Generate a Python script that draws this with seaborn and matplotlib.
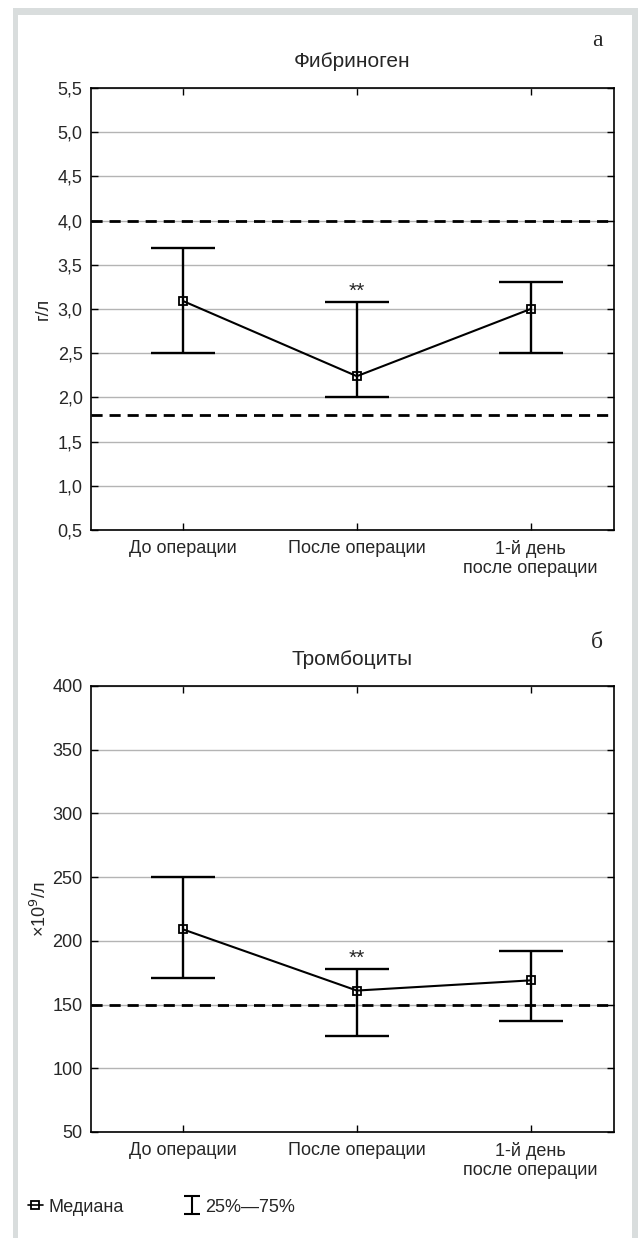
import numpy as np
import pandas as pd
import matplotlib
matplotlib.use("Agg")
import matplotlib.pyplot as plt
import seaborn as sns
from matplotlib import font_manager
from matplotlib.lines import Line2D
from matplotlib.patches import Rectangle

# ---------------- data ----------------
categories = ["До операции", "После операции", "1-й день\nпосле операции"]

fib_median = [3.09, 2.24, 3.00]
fib_q1 = [2.50, 2.00, 2.50]
fib_q3 = [3.69, 3.08, 3.30]
fib_norm = [1.8, 4.0]
fib_ticks = [0.5, 1.0, 1.5, 2.0, 2.5, 3.0, 3.5, 4.0, 4.5, 5.0, 5.5]
fib_ticklabels = ["0,5", "1,0", "1,5", "2,0", "2,5", "3,0", "3,5", "4,0", "4,5", "5,0", "5,5"]

plt_median = [209, 161, 169]
plt_q1 = [171, 125, 137]
plt_q3 = [250, 178, 192]
plt_norm = [150]
plt_ticks = [50, 100, 150, 200, 250, 300, 350, 400]
plt_ticklabels = ["50", "100", "150", "200", "250", "300", "350", "400"]

# ---------------- style ----------------
sns.set_theme(style="white")
names = {f.name for f in font_manager.fontManager.ttflist}
main_font = "Liberation Sans Narrow" if "Liberation Sans Narrow" in names else "Liberation Sans"
plt.rcParams["font.family"] = [main_font, "DejaVu Sans"]
plt.rcParams["axes.edgecolor"] = "black"
plt.rcParams["axes.linewidth"] = 1.2
FS = 13

W, H = 639, 1238
fig = plt.figure(figsize=(W / 100, H / 100), dpi=100)
fig.patch.set_facecolor("white")

# light grey frame
frame_c = "#d9dddd"
fig.add_artist(Rectangle((13 / W, 1 - 15 / H), (638 - 13) / W, 7 / H, transform=fig.transFigure,
                         facecolor=frame_c, edgecolor="none"))
fig.add_artist(Rectangle((13 / W, 0), 5 / W, 1 - 8 / H, transform=fig.transFigure,
                         facecolor=frame_c, edgecolor="none"))
fig.add_artist(Rectangle((632 / W, 0), 6 / W, 1 - 8 / H, transform=fig.transFigure,
                         facecolor=frame_c, edgecolor="none"))

ax_left, ax_right = 91, 614
axA = fig.add_axes([ax_left / W, 1 - 530 / H, (ax_right - ax_left) / W, (530 - 88) / H])
axB = fig.add_axes([ax_left / W, 1 - 1132 / H, (ax_right - ax_left) / W, (1132 - 686) / H])


def panel(ax, med, q1, q3, norms, ticks, ticklabels, title, ylabel, labelpad):
    df = pd.DataFrame({"cat": categories, "val": med})
    sns.pointplot(data=df, x="cat", y="val", color="black", markers="s", linestyles="-",
                  errorbar=None, linewidth=1.5, markersize=6, markeredgewidth=1.3,
                  markerfacecolor="none", ax=ax, zorder=5)
    x = np.arange(len(categories))
    lo = np.subtract(med, q1)
    hi = np.subtract(q3, med)
    ax.errorbar(x, med, yerr=[lo, hi], fmt="none", ecolor="black", elinewidth=1.7,
                capsize=23, capthick=1.7, zorder=4)
    for n in norms:
        ax.axhline(n, color="black", lw=2.0, ls=(0, (4, 2.5)), zorder=3)
    ax.set_yticks(ticks, ticklabels)
    ax.set_ylim(ticks[0], ticks[-1])
    ax.set_xticks(x, categories)
    ax.set_xlim(-0.53, 2.48)
    ax.yaxis.grid(True, color="#b4b4b4", lw=1.0, zorder=0)
    ax.xaxis.grid(False)
    ax.set_axisbelow(True)
    ax.tick_params(axis="both", direction="in", length=5, width=1, color="black",
                   top=True, right=True, left=True, bottom=True, labelsize=FS, pad=7)
    ax.tick_params(axis="y", pad=6)
    ax.set_xlabel("")
    ax.set_ylabel(ylabel, fontsize=FS, labelpad=labelpad)
    ax.text(0.5, 1.06, title, transform=ax.transAxes, ha="center", va="center", fontsize=15)
    ax.annotate("**", (1, q3[1]), xytext=(0, 1), textcoords="offset points",
                ha="center", va="bottom", fontsize=15)
    for s in ax.spines.values():
        s.set_visible(True)
        s.set_color("black")
        s.set_linewidth(1.2)


panel(axA, fib_median, fib_q1, fib_q3, fib_norm, fib_ticks, fib_ticklabels, "Фибриноген", "г/л", 4)
panel(axB, plt_median, plt_q1, plt_q3, plt_norm, plt_ticks, plt_ticklabels, "Тромбоциты",
      r"×10$^{9}$/л", 2)

fig.text(597 / W, 1 - 40 / H, "а", family="Liberation Serif", fontsize=17, ha="center", va="center")
fig.text(597 / W, 1 - 642 / H, "б", family="Liberation Serif", fontsize=17, ha="center", va="center")

# legend
h_med = Line2D([0], [0], color="black", lw=1.2, marker="s", mfc="none", ms=6, mew=1.3)
h_iqr = axB.errorbar([0], [np.nan], yerr=[[1], [1]], fmt="none", ecolor="black", elinewidth=1.5,
                     capsize=6, capthick=1.5)
fig.legend([h_med, h_iqr], ["Медиана", "25%—75%"], loc="center left",
           bbox_to_anchor=(12 / W, 1 - 1207 / H), ncol=2, frameon=False,
           handlelength=0.8, handletextpad=0.3, columnspacing=3.4, fontsize=FS)

fig.savefig("out.png", dpi=100, facecolor="white")
